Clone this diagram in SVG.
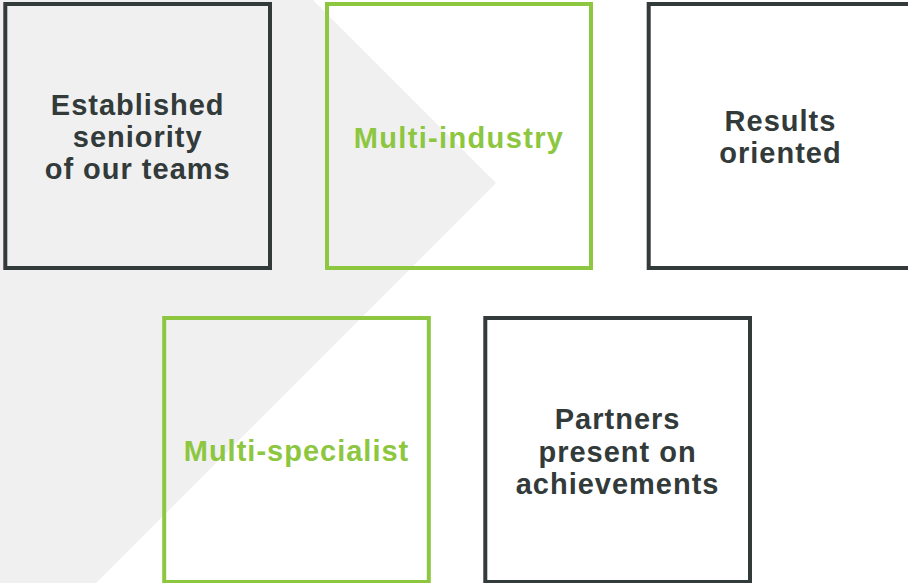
<svg xmlns="http://www.w3.org/2000/svg" width="908" height="583" viewBox="0 0 908 583">
<style>
.bg{fill:#f0f0f0}
.box{fill:none;stroke-width:4}
.dark{stroke:#323a3a}
.green{stroke:#8dc63f}
.t{font-family:"Liberation Sans",Arial,sans-serif;font-weight:bold;font-size:29px;text-anchor:middle;letter-spacing:1px}
.td{fill:#323a3a}
.tg{fill:#8dc63f}
</style>
<rect width="908" height="583" fill="#ffffff"/>
<polygon class="bg" points="0,0 313,0 496,183 96,583 0,583"/>
<g id="node-established">
<rect class="box dark" x="5.3" y="4" width="264.7" height="264"/>
<text class="t td" x="137.7" y="115">Established</text>
<text class="t td" x="137.7" y="147">seniority</text>
<text class="t td" x="137.7" y="179">of our teams</text>
</g>
<g id="node-multi-industry">
<rect class="box green" x="327" y="4" width="264" height="264"/>
<text class="t tg" x="459" y="148" style="letter-spacing:1.35px">Multi-industry</text>
</g>
<g id="node-results">
<rect class="box dark" x="648.7" y="4" width="264" height="264"/>
<text class="t td" x="780.5" y="131">Results</text>
<text class="t td" x="780.5" y="163">oriented</text>
</g>
<g id="node-multi-specialist">
<rect class="box green" x="164.2" y="318" width="264.6" height="264"/>
<text class="t tg" x="296.5" y="461">Multi-specialist</text>
</g>
<g id="node-partners">
<rect class="box dark" x="485.3" y="318" width="264.7" height="264"/>
<text class="t td" x="617.6" y="429">Partners</text>
<text class="t td" x="617.6" y="461.5">present on</text>
<text class="t td" x="617.6" y="493.5">achievements</text>
</g>
<g id="connectors"></g>
</svg>
